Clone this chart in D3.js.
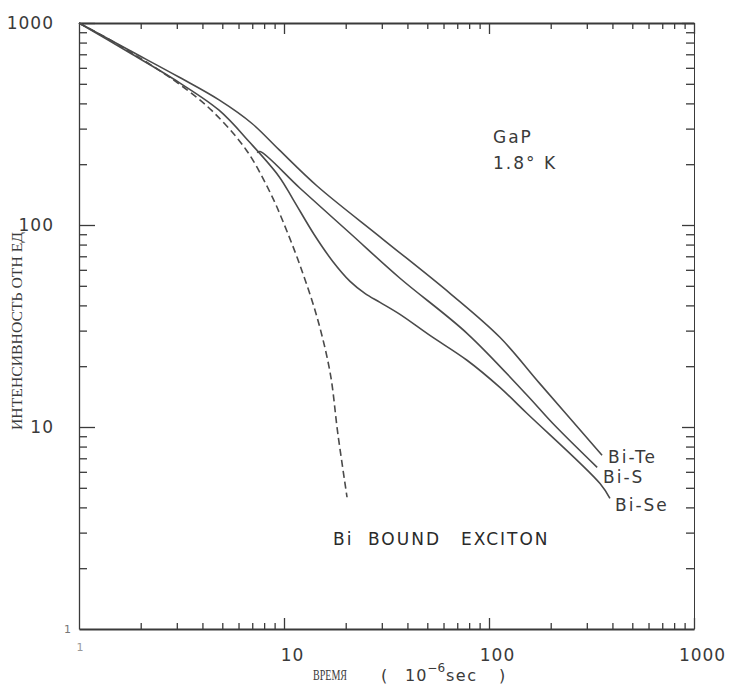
<!DOCTYPE html>
<html>
<head>
<meta charset="utf-8">
<title>GaP decay</title>
<script src="https://d3js.org/d3.v7.min.js"></script>
<style>
  body { margin: 0; background: #fff; }
</style>
</head>
<body>
<svg width="731" height="686" id="mainSvg"></svg>
<script>
// time in 10^-6 sec, intensity in relative units
const biTeTime = [1, 1.75, 3.07, 4.82, 6.98, 9.45, 14.5, 30.4, 64.5, 113, 177, 356];
const biTeInt  = [1000, 735, 540, 416, 318, 236, 156, 85, 45.9, 27.8, 16.4, 7.24];

const biSTime = [7.4, 7.64, 11.97, 21, 36.8, 78.1, 153, 205, 337];
const biSInt  = [228, 231, 152, 91, 54.5, 29.1, 14.4, 10.4, 6.31];

const biSeTime = [1, 1.75, 3.07, 4.82, 6.82, 9.45, 11.07, 14, 17.3, 21, 24.8, 29.4, 36.8, 51.5, 78.1, 113, 153, 348, 389];
const biSeInt  = [1000, 716, 508, 370, 256, 174, 134, 90, 66, 52.6, 45.9, 41.4, 36.1, 28.4, 21.4, 15.7, 11.7, 5.25, 4.43];

const excitonTime = [1, 1.57, 3.07, 4.45, 6.53, 8.64, 9.89, 11.97, 14.5, 16.8, 18.3, 20.3];
const excitonInt  = [1000, 776, 500, 368, 236, 142, 104, 63.1, 34.9, 18.5, 9.3, 4.49];

const majorTicks = [10, 100, 1000];
const minorTicks = [2, 3, 4, 5, 6, 7, 8, 9, 20, 30, 40, 50, 60, 70, 80, 90,
                    200, 300, 400, 500, 600, 700, 800, 900];

const svg = d3.select('#mainSvg');
const x = d3.scaleLog().domain([1, 1000]).range([79, 694]);
const y = d3.scaleLog().domain([1, 1000]).range([629, 23]);

const ink = '#3a3a3a';
const fontSans = '"DejaVu Sans", sans-serif';
const fontSerif = '"Liberation Serif", serif';

// axes: minor ticks first, then major ticks with labels
function drawAxis(axisFn, scale, transform, size, values, labels, dx, domainWidth) {
  const g = svg.append('g').attr('transform', transform)
    .call(axisFn(scale).tickValues(values).tickSize(size).tickSizeOuter(0)
      .tickPadding(labels ? 9 - Math.min(size, 0) : 0)
      .tickFormat(labels ? d3.format('d') : ''));
  g.selectAll('.tick line').attr('stroke', ink).attr('stroke-width', 1.3);
  g.select('.domain').attr('stroke', ink).attr('stroke-width', domainWidth);
  g.selectAll('.tick text')
    .attr('fill', ink)
    .attr('font-family', fontSans)
    .attr('font-size', 17)
    .attr('letter-spacing', 1)
    .attr('dx', dx);
  return g;
}

drawAxis(d3.axisBottom, x, 'translate(0,629)', -6, minorTicks, false, 0, 2.2);
drawAxis(d3.axisBottom, x, 'translate(0,629)', -11, majorTicks, true, 8, 0);
drawAxis(d3.axisTop, x, 'translate(0,23)', -6, minorTicks, false, 0, 2);
drawAxis(d3.axisTop, x, 'translate(0,23)', -11, majorTicks, false, 0, 0);
drawAxis(d3.axisLeft, y, 'translate(79,0)', -8, minorTicks, false, 0, 1.3);
drawAxis(d3.axisLeft, y, 'translate(79,0)', -16, majorTicks, true, 0, 0);
drawAxis(d3.axisRight, y, 'translate(694,0)', -8, minorTicks, false, 0, 1);
drawAxis(d3.axisRight, y, 'translate(694,0)', -12, majorTicks, false, 0, 0);

// faint "1" labels at the origin
svg.append('text').attr('x', x(1) - 8).attr('y', y(1) + 4)
  .attr('text-anchor', 'end').attr('font-family', fontSans).attr('font-size', 11)
  .attr('fill', '#777').text('1');
svg.append('text').attr('x', x(1) + 1).attr('y', y(1) + 22)
  .attr('text-anchor', 'middle').attr('font-family', fontSans).attr('font-size', 11)
  .attr('fill', '#999').text('1');

// curves
const line = d3.line()
  .x(d => x(d[0]))
  .y(d => y(d[1]))
  .curve(d3.curveCatmullRom.alpha(0.5));

const series = [
  { t: biTeTime, v: biTeInt, dash: null },
  { t: biSTime, v: biSInt, dash: null },
  { t: biSeTime, v: biSeInt, dash: null },
  { t: excitonTime, v: excitonInt, dash: '7,4' }
];

svg.append('g').selectAll('path').data(series).join('path')
  .attr('d', d => line(d.t.map((t, i) => [t, d.v[i]])))
  .attr('fill', 'none')
  .attr('stroke', '#4a4a4a')
  .attr('stroke-width', 1.6)
  .attr('stroke-dasharray', d => d.dash);

// annotations
const labels = [
  { text: 'Bi-Te', x: 608, y: 462.5 },
  { text: 'Bi-S', x: 603, y: 483 },
  { text: 'Bi-Se', x: 615, y: 510.5 },
  { text: 'GaP', x: 493, y: 143 },
  { text: '1.8° K', x: 493, y: 169 }
];
svg.append('g').selectAll('text').data(labels).join('text')
  .attr('x', d => d.x).attr('y', d => d.y)
  .attr('font-family', fontSans).attr('font-size', 17)
  .attr('letter-spacing', 2).attr('fill', ink)
  .text(d => d.text);

const exc = svg.append('text').attr('y', 544.5)
  .attr('font-family', fontSans).attr('font-size', 17)
  .attr('letter-spacing', 2).attr('fill', '#2a2a2a');
exc.append('tspan').attr('x', 333).text('Bi');
exc.append('tspan').attr('x', 368).text('BOUND');
exc.append('tspan').attr('x', 461).text('EXCITON');

// axis titles
svg.append('text').attr('x', 313).attr('y', 680)
  .attr('font-family', fontSerif).attr('font-size', 14)
  .attr('textLength', 34).attr('lengthAdjust', 'spacingAndGlyphs')
  .attr('fill', ink).text('ВРЕМЯ');

const xt = svg.append('text').attr('y', 681)
  .attr('font-family', fontSans).attr('font-size', 16).attr('fill', ink);
xt.append('tspan').attr('x', 381).text('(');
xt.append('tspan').attr('x', 405).attr('letter-spacing', 1).text('10');
xt.append('tspan').attr('dy', -9).attr('font-size', 12).text('−6');
xt.append('tspan').attr('x', 446).attr('dy', 9).attr('letter-spacing', 1.5).text('sec');
xt.append('tspan').attr('x', 499).text(')');

svg.append('text')
  .attr('transform', 'translate(22,331) rotate(-90)')
  .attr('text-anchor', 'middle')
  .attr('font-family', fontSerif).attr('font-size', 14)
  .attr('textLength', 198).attr('lengthAdjust', 'spacingAndGlyphs')
  .attr('fill', ink)
  .text('ИНТЕНСИВНОСТЬ   ОТН   ЕД');
</script>
</body>
</html>
